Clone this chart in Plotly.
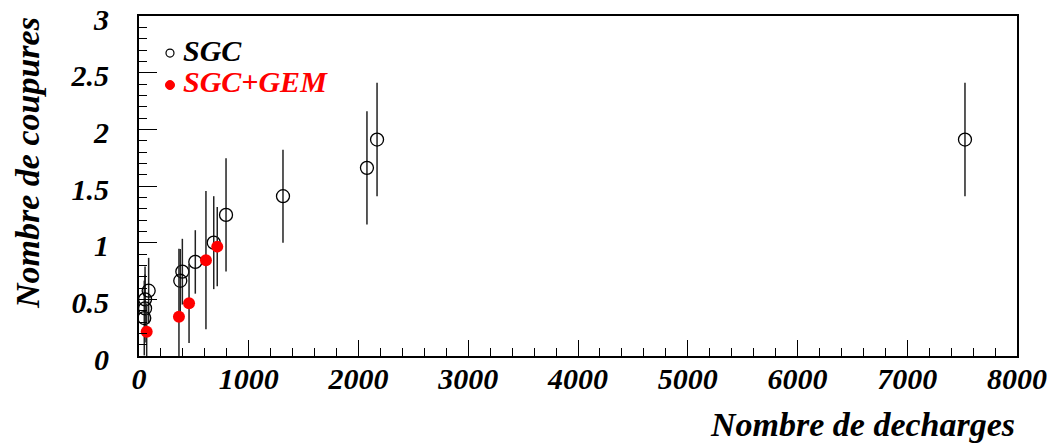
import plotly.graph_objects as go

# SGC (open circles)
sgc_x = [48, 55, 55, 88, 376, 395, 513, 681, 793, 1312, 2077, 2169, 7526]
sgc_y = [0.335, 0.42, 0.50, 0.576, 0.664, 0.744, 0.83, 1.0, 1.245, 1.41, 1.66, 1.91, 1.91]
sgc_err = [0.33, 0.30, 0.29, 0.29, 0.28, 0.29, 0.28, 0.41, 0.50, 0.41, 0.50, 0.50, 0.50]

# SGC+GEM (red filled circles)
gem_x = [70, 364, 456, 610, 713]
gem_y = [0.214, 0.347, 0.465, 0.845, 0.965]
gem_err = [0.25, 0.60, 0.35, 0.61, 0.35]

x_ticks = [0, 1000, 2000, 3000, 4000, 5000, 6000, 7000, 8000]
y_ticks = [0, 0.5, 1, 1.5, 2, 2.5, 3]
y_tick_text = ["0", "0.5", "1", "1.5", "2", "2.5", "3"]

series_names = ["SGC", "SGC+GEM"]
series_colors = ["black", "red"]

FONT = "Liberation Serif"

def err_minus(y, e):
    return [min(a, b) for a, b in zip(y, e)]

fig = go.Figure()
fig.add_trace(go.Scatter(
    x=sgc_x, y=sgc_y, mode="markers", name=series_names[0],
    marker=dict(symbol="circle-open", size=13, color="black", line=dict(width=1.3)),
    error_y=dict(type="data", array=sgc_err, arrayminus=err_minus(sgc_y, sgc_err),
                 symmetric=False, width=0, thickness=1.5, color="#222"),
    cliponaxis=False, showlegend=False,
))
fig.add_trace(go.Scatter(
    x=gem_x, y=gem_y, mode="markers", name=series_names[1],
    marker=dict(symbol="circle", size=12, color="red"),
    error_y=dict(type="data", array=gem_err, arrayminus=err_minus(gem_y, gem_err),
                 symmetric=False, width=0, thickness=1.5, color="#222"),
    cliponaxis=False, showlegend=False,
))

tickfont = dict(family=FONT, size=30, color="black", weight="bold", style="italic")

# page has an 8px body margin: plot area at page x 139..1017, y 16..356
fig.update_layout(
    width=1047, height=438,
    margin=dict(l=131, r=38, t=8, b=90, autoexpand=False),
    paper_bgcolor="white", plot_bgcolor="white",
    showlegend=False,
    xaxis=dict(range=[0, 8000], tickvals=x_ticks, ticktext=[str(v) for v in x_ticks],
               ticks="inside", ticklen=16, tickwidth=1, tickcolor="black",
               minor=dict(dtick=200, ticks="inside", ticklen=8, tickwidth=1, tickcolor="black"),
               showline=True, linecolor="black", linewidth=2, mirror=True,
               showgrid=False, zeroline=False, tickfont=tickfont, ticklabelstandoff=-5,
               ticklabeloverflow="allow", automargin=False),
    yaxis=dict(range=[0, 3], tickvals=y_ticks, ticktext=y_tick_text,
               ticks="inside", ticklen=18, tickwidth=1, tickcolor="black",
               minor=dict(dtick=0.1, ticks="inside", ticklen=8, tickwidth=1, tickcolor="black"),
               showline=True, linecolor="black", linewidth=2, mirror=True,
               showgrid=False, zeroline=False, tickfont=tickfont, ticklabelstandoff=22,
               ticklabelshift=3, ticklabeloverflow="allow", automargin=False),
)

title_font = dict(family=FONT, size=34, color="black", weight="bold", style="italic")
fig.add_annotation(text="Nombre de decharges", xref="paper", yref="paper",
                   x=1, y=0, xanchor="right", yanchor="middle", xshift=0, yshift=-68,
                   showarrow=False, font=title_font)
fig.add_annotation(text="Nombre de coupures", xref="paper", yref="paper",
                   x=0, y=1, xanchor="center", yanchor="top", xshift=-112, yshift=1,
                   textangle=-90, showarrow=False, font=title_font)

# legend (text entries + small symbols)
leg_font = dict(family=FONT, size=30, weight="bold", style="italic")
leg_sym_y = [0.891, 0.797]
leg_txt_y = [0.899, 0.808]
for name, color, yy in zip(series_names, series_colors, leg_txt_y):
    fig.add_annotation(text=name, xref="paper", yref="paper", x=0.048, y=yy,
                       xanchor="left", yanchor="middle", showarrow=False,
                       font=dict(leg_font, color=color))
fig.add_shape(type="circle", xref="paper", yref="paper", xsizemode="pixel", ysizemode="pixel",
              xanchor=0.0353, yanchor=leg_sym_y[0], x0=-4, x1=4, y0=-4, y1=4,
              line=dict(color="black", width=1.2), fillcolor="white")
fig.add_shape(type="circle", xref="paper", yref="paper", xsizemode="pixel", ysizemode="pixel",
              xanchor=0.0353, yanchor=leg_sym_y[1], x0=-4.5, x1=4.5, y0=-4.5, y1=4.5,
              line=dict(color="red", width=1), fillcolor="red")

fig.write_html("out.html")
